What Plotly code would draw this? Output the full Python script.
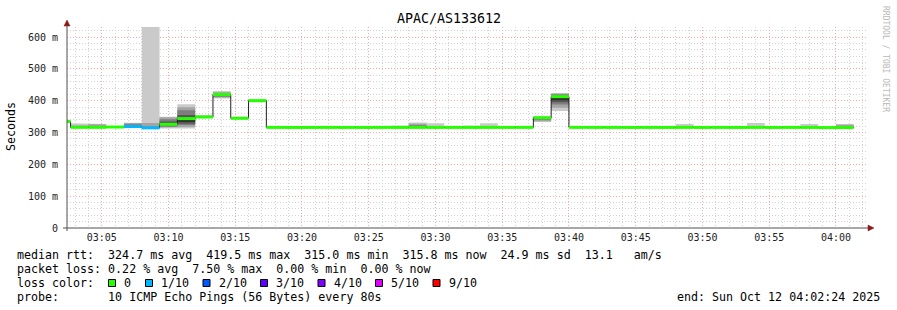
import plotly.graph_objects as go
from datetime import datetime, timedelta

# ---------------- data ----------------
chart_title = "APAC/AS133612"
y_title = "Seconds"
window_start = "2025-10-12 03:02:24"
window_end = "2025-10-12 04:02:24"
first_full_step = "2025-10-12 03:02:40"
step_seconds = 80

# median rtt per step (ms); index 0 is the partial step at the window start
median = [335.0,
          316.5, 316.5, 317.5, 319.0, 315.0, 326.0, 344.0, 349.0, 419.5, 345.0,
          400.5, 316.3, 316.2, 316.2, 316.3, 316.2, 316.2, 316.3, 316.2, 316.3,
          316.2, 316.3, 316.2, 316.3, 316.3, 316.4, 347.0, 413.0, 316.4, 316.3,
          316.3, 316.2, 316.3, 316.2, 316.3, 316.2, 316.3, 316.2, 316.3, 316.2,
          316.3, 316.2, 315.8, 315.8]

# lost pings (out of 10) per step
loss = [0,
        0, 0, 0, 1, 1, 0, 0, 0, 0, 0,
        0, 0, 0, 0, 0, 0, 0, 0, 0, 0,
        0, 0, 0, 0, 0, 0, 0, 0, 0, 0,
        0, 0, 0, 0, 0, 0, 0, 0, 0, 0,
        0, 0, 0, 0]

# steps with visible smoke: sorted individual ping rtts (ms)
smoke_steps = [1, 2, 4, 5, 6, 7, 8, 9, 11, 19, 20, 21, 23, 24, 27, 28, 35, 39, 42, 44]
smoke_pings = [
    [315.0, 315.5, 316.0, 316.0, 316.5, 316.5, 317.0, 318.0, 322.0, 329.0],
    [315.0, 315.5, 316.0, 316.0, 316.5, 316.5, 317.0, 320.0, 326.0, 327.0],
    [316.0, 317.0, 318.0, 318.5, 319.0, 319.5, 322.0, 326.0, 330.0, 331.0],
    [313.0, 314.0, 314.5, 315.0, 315.0, 315.0, 316.0, 318.0, 330.0, 700.0],
    [314.0, 316.0, 318.0, 322.0, 325.0, 327.0, 335.0, 342.0, 348.0, 350.0],
    [313.0, 318.0, 324.0, 328.0, 333.0, 340.0, 355.0, 370.0, 380.0, 389.0],
    [348.0, 348.0, 348.5, 349.0, 349.0, 349.0, 349.5, 350.0, 352.0, 355.0],
    [407.0, 410.0, 413.0, 416.0, 418.0, 420.0, 421.0, 423.0, 427.0, 431.0],
    [396.0, 397.0, 399.0, 400.0, 400.0, 401.0, 401.0, 401.5, 402.0, 402.0],
    [315.5, 316.0, 316.0, 316.0, 316.0, 316.5, 316.5, 317.0, 318.0, 322.0],
    [315.5, 316.0, 316.0, 316.0, 316.5, 316.5, 318.0, 323.0, 328.0, 332.0],
    [315.5, 316.0, 316.0, 316.0, 316.0, 316.5, 316.5, 317.0, 320.0, 329.0],
    [315.5, 316.0, 316.0, 316.0, 316.0, 316.5, 316.5, 317.0, 318.0, 322.0],
    [315.5, 316.0, 316.0, 316.0, 316.0, 316.5, 316.5, 317.0, 320.0, 329.0],
    [333.0, 336.0, 340.0, 343.0, 346.0, 347.0, 348.0, 348.0, 349.0, 349.0],
    [368.0, 378.0, 388.0, 395.0, 402.0, 412.0, 416.0, 420.0, 423.0, 424.0],
    [315.5, 316.0, 316.0, 316.0, 316.0, 316.5, 316.5, 317.0, 320.0, 327.0],
    [315.5, 316.0, 316.0, 316.0, 316.0, 316.5, 316.5, 317.0, 321.0, 330.0],
    [315.5, 316.0, 316.0, 316.0, 316.0, 316.5, 316.5, 317.0, 320.0, 327.0],
    [315.0, 315.5, 315.5, 315.5, 315.8, 316.0, 316.0, 318.0, 325.0, 327.0],
]

y_tickvals = [0, 100, 200, 300, 400, 500, 600]
y_ticktext = ["0", "100 m", "200 m", "300 m", "400 m", "500 m", "600 m"]
y_max = 632

loss_levels = [0, 1, 2, 3, 4, 5, 9]
loss_labels = ["0", "1/10", "2/10", "3/10", "4/10", "5/10", "9/10"]
loss_colors = ["#26ff00", "#00b8ff", "#0059ff", "#5e00ff", "#7e00ff", "#dd00ff", "#ff0000"]

legend_rtt = "median rtt:  324.7 ms avg  419.5 ms max  315.0 ms min  315.8 ms now  24.9 ms sd  13.1   am/s"
legend_loss = "packet loss: 0.22 % avg  7.50 % max  0.00 % min  0.00 % now"
legend_color = "loss color:"
legend_probe = "probe:       10 ICMP Echo Pings (56 Bytes) every 80s"
legend_end = "end: Sun Oct 12 04:02:24 2025"
watermark = "RRDTOOL / TOBI OETIKER"

# ---------------- build ----------------
FMT = "%Y-%m-%d %H:%M:%S"
t_first = datetime.strptime(first_full_step, FMT)
starts = [datetime.strptime(window_start, FMT)] + [t_first + timedelta(seconds=step_seconds * k)
                                                   for k in range(len(median) - 1)]
ends = starts[1:] + [starts[-1] + timedelta(seconds=step_seconds)]
S = [t.strftime(FMT) for t in starts]
E = [t.strftime(FMT) for t in ends]

pings = [[m] * 10 for m in median]
for idx, p in zip(smoke_steps, smoke_pings):
    pings[idx] = p

MONO = "DejaVu Sans Mono"
LEG = 11.65
fig = go.Figure()

shades = ["#cacaca", "#a4a4a4", "#7e7e7e", "#585858", "#323232"]
for k, col in enumerate(shades):
    xs, ys = [], []
    for i in range(len(median)):
        xs += [S[i], E[i]]
        ys += [pings[i][9 - k], pings[i][9 - k]]
    for i in reversed(range(len(median))):
        xs += [E[i], S[i]]
        ys += [pings[i][k], pings[i][k]]
    fig.add_trace(go.Scatter(x=xs, y=ys, mode="lines", fill="toself", fillcolor=col,
                             line=dict(width=0), hoverinfo="skip", showlegend=False))

# dark median line (with the vertical transitions)
mx, my = [], []
for i in range(len(median)):
    mx += [S[i], E[i]]
    my += [median[i], median[i]]
fig.add_trace(go.Scatter(x=mx, y=my, mode="lines", line=dict(color="#202020", width=1),
                         hoverinfo="skip", showlegend=False))

# loss-coloured median band
for lvl, col in zip(loss_levels, loss_colors):
    bx, by = [], []
    for i in range(len(median)):
        if loss[i] == lvl:
            bx += [S[i], E[i], None]
            by += [median[i], median[i], None]
    if bx:
        fig.add_trace(go.Scatter(x=bx, y=by, mode="lines", line=dict(color=col, width=3),
                                 connectgaps=False, hoverinfo="skip", showlegend=False))

PL, PR, PT, PB = 67, 868, 27, 228
W, H = 897, 310


def px(x):
    return (x - PL) / (PR - PL)


def py(y):
    return (PB - y) / (PB - PT)


GRID_MINOR = "#d2d2d2"
GRID_MAJOR = "#f3a9a9"
DASH = "1px,2px"

fig.update_layout(
    width=W, height=H,
    margin=dict(l=PL, r=W - PR, t=PT, b=H - PB, pad=0),
    paper_bgcolor="white", plot_bgcolor="white",
    showlegend=False,
    xaxis=dict(type="date", range=[window_start, window_end],
               tick0="2025-10-12 03:05:00", dtick=300000, tickformat="%H:%M",
               showgrid=True, gridcolor=GRID_MAJOR, griddash=DASH, gridwidth=1,
               minor=dict(dtick=60000, tick0="2025-10-12 03:05:00", showgrid=True,
                          gridcolor=GRID_MINOR, griddash=DASH, gridwidth=1),
               showline=False, zeroline=False, ticks="", ticklabelstandoff=2,
               tickfont=dict(family=MONO, size=10, color="#222")),
    yaxis=dict(range=[0, y_max], tickvals=y_tickvals, ticktext=y_ticktext,
               showgrid=True, gridcolor=GRID_MAJOR, griddash=DASH, gridwidth=1,
               minor=dict(dtick=20, tick0=0, showgrid=True,
                          gridcolor=GRID_MINOR, griddash=DASH, gridwidth=1),
               showline=False, zeroline=False, ticks="", ticklabelstandoff=8,
               tickfont=dict(family=MONO, size=10, color="#222")),
)

AX = "#505050"
ARROW = "#8b1a1a"
shapes = [
    dict(type="line", xref="paper", yref="paper", x0=px(67), x1=px(67), y0=py(231), y1=py(24),
         line=dict(color=AX, width=1)),
    dict(type="line", xref="paper", yref="paper", x0=px(63), x1=px(869), y0=py(228), y1=py(228),
         line=dict(color=AX, width=1)),
    dict(type="path", xref="paper", yref="paper",
         path=f"M {px(64)} {py(26)} L {px(70)} {py(26)} L {px(67)} {py(20)} Z",
         fillcolor=ARROW, line=dict(color=ARROW, width=0.5)),
    dict(type="path", xref="paper", yref="paper",
         path=f"M {px(868)} {py(225)} L {px(868)} {py(231)} L {px(874)} {py(228)} Z",
         fillcolor=ARROW, line=dict(color=ARROW, width=0.5)),
]

box_x = [108.5, 145.5, 203, 260.5, 318, 375.5, 433]
ann = []
for bx0, lab, col in zip(box_x, loss_labels, loss_colors):
    shapes.append(dict(type="rect", xref="paper", yref="paper",
                       x0=px(bx0), x1=px(bx0 + 7), y0=py(286.5), y1=py(279.5),
                       fillcolor=col, line=dict(color="#000", width=1)))
    ann.append(dict(text=lab, x=px(bx0 + 13.5), y=py(283), xanchor="left", yanchor="middle"))

nb = lambda s: s.replace(" ", "\u00a0")
ann += [
    dict(text=nb(legend_rtt), x=px(15), y=py(255), xanchor="left", yanchor="middle"),
    dict(text=nb(legend_loss), x=px(15), y=py(268.5), xanchor="left", yanchor="middle"),
    dict(text=nb(legend_color), x=px(15), y=py(283), xanchor="left", yanchor="middle"),
    dict(text=nb(legend_probe), x=px(15), y=py(297), xanchor="left", yanchor="middle"),
    dict(text=nb(legend_end), x=px(882), y=py(297), xanchor="right", yanchor="middle"),
]
annotations = []
for a in ann:
    a.update(xref="paper", yref="paper", showarrow=False,
             font=dict(family=MONO, size=LEG, color="#000"))
    annotations.append(a)

annotations.append(dict(text=chart_title, x=px(448.5), y=py(19), xref="paper", yref="paper",
                        xanchor="center", yanchor="middle", showarrow=False,
                        font=dict(family=MONO, size=13.3, color="#000")))
annotations.append(dict(text=y_title, x=px(11), y=py(127), xref="paper", yref="paper",
                        xanchor="center", yanchor="middle", showarrow=False, textangle=-90,
                        font=dict(family=MONO, size=LEG, color="#000")))
annotations.append(dict(text=nb(watermark), x=px(886), y=py(59), xref="paper", yref="paper",
                        xanchor="center", yanchor="middle", showarrow=False, textangle=90,
                        font=dict(family=MONO, size=8, color="#b8b8b8")))

fig.update_layout(shapes=shapes, annotations=annotations)
fig.write_html("out.html", config={"displayModeBar": False})
